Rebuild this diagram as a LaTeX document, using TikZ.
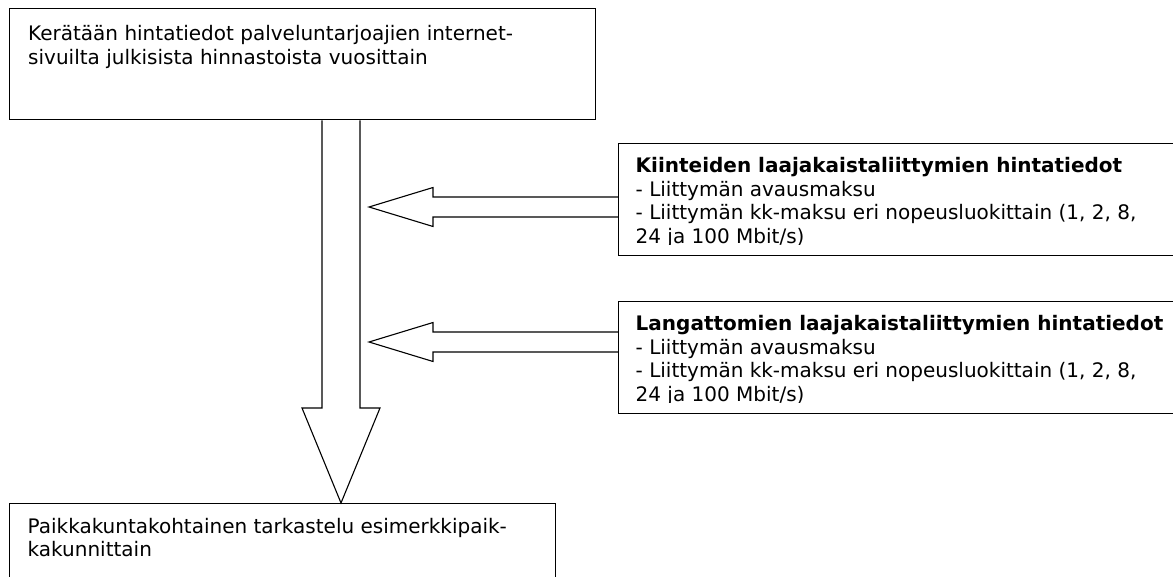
\documentclass[tikz,border=0pt]{standalone}
\usepackage{fontspec}
\setmainfont{DejaVu Sans}
\usetikzlibrary{calc}

\tikzset{
  frame/.style={draw, line width=1.4pt, inner sep=0pt, anchor=north west},
  txt/.style={inner sep=0pt, anchor=north west, align=left,
    font=\fontsize{20}{23.7}\selectfont},
  fat/.style={draw, line width=1.1pt, line join=miter},
}

\begin{document}
\begin{tikzpicture}[x=1pt, y=-1pt]
  \fill[white] (0,0) rectangle (1173,577);
  \useasboundingbox (0,0) rectangle (1173,577);

  % frames
  \node[frame, minimum width=586pt, minimum height=111pt] (top) at (9,8) {};
  \node[frame, minimum width=600pt, minimum height=112pt] (fixed) at (618,143) {};
  \node[frame, minimum width=600pt, minimum height=112pt] (wireless) at (618,301) {};
  \node[frame, minimum width=546.5pt, minimum height=100pt] (bottom) at (8.5,503) {};

  % texts
  \node[txt] (toptxt) at ($(top.north west)+(19,17.3)$)
    {Kerätään hintatiedot palveluntarjoajien internet-\\sivuilta julkisista hinnastoista vuosittain};
  \node[txt] (bottomtxt) at ($(bottom.north west)+(19,14.8)$)
    {Paikkakuntakohtainen tarkastelu esimerkkipaik-\\kakunnittain};
  \begin{scope}
    \clip (fixed.north west) rectangle ($(fixed.south east)+(0,-11.5)$);
    \node[txt] (fixedtxt) at ($(fixed.north west)+(17.5,14)$)
      {\textbf{Kiinteiden laajakaistaliittymien hintatiedot}\\- Liittymän avausmaksu\\- Liittymän kk-maksu eri nopeusluokittain (1, 2, 8,\\24 ja 100 Mbit/s)};
  \end{scope}
  \begin{scope}
    \clip (wireless.north west) rectangle ($(wireless.south east)+(0,-11.5)$);
    \node[txt] (wirelesstxt) at ($(wireless.north west)+(17.5,14)$)
      {\textbf{Langattomien laajakaistaliittymien hintatiedot}\\- Liittymän avausmaksu\\- Liittymän kk-maksu eri nopeusluokittain (1, 2, 8,\\24 ja 100 Mbit/s)};
  \end{scope}

  % block arrows
  \coordinate (axis) at (341,0);
  \coordinate (dtail) at (top.south -| axis);
  \coordinate (dtip) at (bottom.north -| axis);
  \draw[fat] ($(dtail)+(-19,0)$) -- ($(dtip)+(-19,-95)$) -- ($(dtip)+(-39,-95)$)
    -- (dtip) -- ($(dtip)+(39,-95)$) -- ($(dtip)+(19,-95)$) -- ($(dtail)+(19,0)$);

  \coordinate (ltip1) at (369,207);
  \coordinate (ltip2) at (369,342);
  \foreach \t/\b in {ltip1/fixed, ltip2/wireless}
    \draw[fat] ($(\t -| \b.west)+(0,-10)$) -- ($(\t)+(64,-10)$) -- ($(\t)+(64,-19.5)$)
      -- (\t) -- ($(\t)+(64,19.5)$) -- ($(\t)+(64,10)$) -- ($(\t -| \b.west)+(0,10)$);
\end{tikzpicture}
\end{document}
